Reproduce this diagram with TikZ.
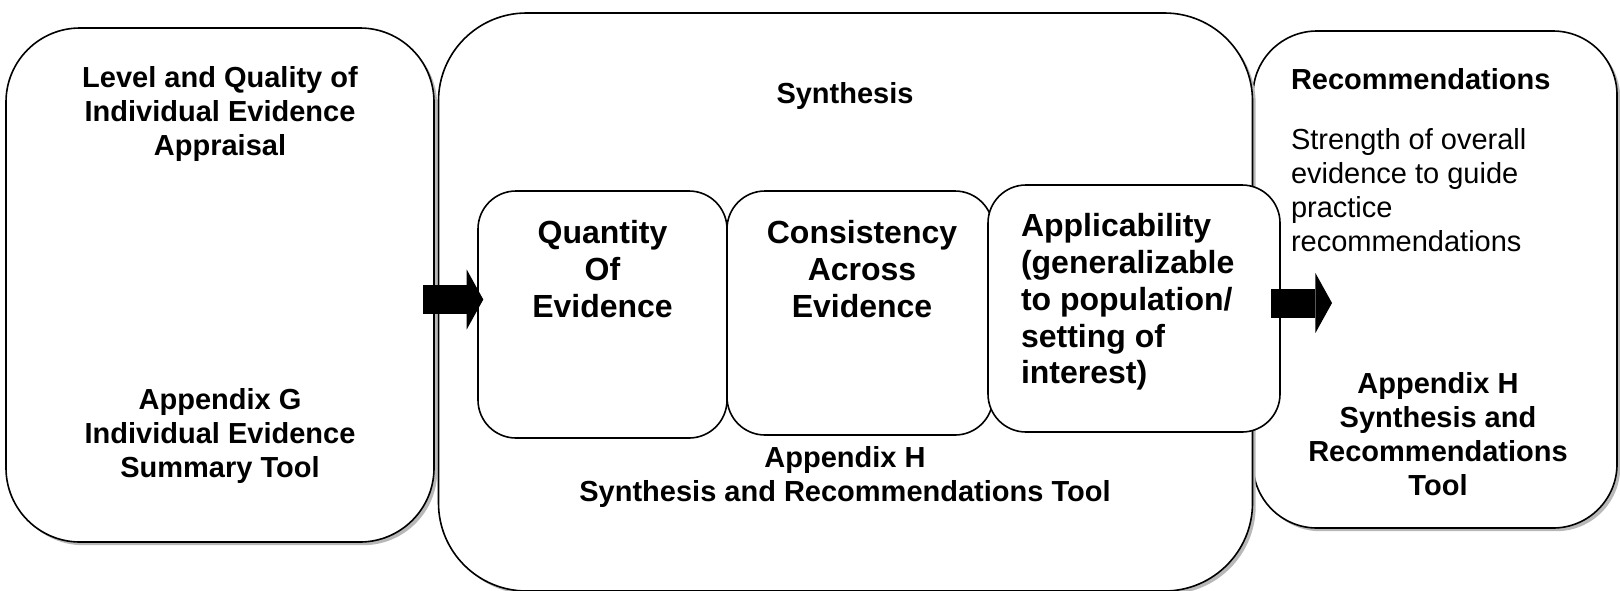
\documentclass[tikz,border=0pt]{standalone}
\usepackage{fontspec}
\setmainfont{Liberation Sans}
\usetikzlibrary{shadows,arrows.meta}

\begin{document}
\begin{tikzpicture}[x=0.5pt,y=-0.5pt,
every node/.style={align=center,inner sep=0pt,outer sep=0pt},
panel/.style={draw,fill=white,line width=0.8pt,rounded corners=#1,drop shadow={shadow xshift=1.6pt,shadow yshift=-1.6pt,fill=black!28,opacity=1}},
part/.style={draw,fill=white,line width=0.8pt,rounded corners=19pt},
head/.style={font=\fontsize{14.5}{17}\selectfont\bfseries},
big/.style={font=\fontsize{16}{18.4}\selectfont\bfseries},
body/.style={font=\fontsize{14.5}{17}\selectfont,align=left},
fat arrow/.style={line width=14.5pt,-{Triangle[length=8.3pt,width=30pt,line width=0pt]}}
]
\useasboundingbox (0,0) rectangle (1620,590);

% the three stages
\node[panel=32pt,minimum width=182pt,minimum height=248.5pt] (recom) at (1435,279.5) {};
\node[panel=37pt,minimum width=214pt,minimum height=257pt] (level) at (220,285) {};
\node[panel=44pt,minimum width=407pt,minimum height=289pt] (synth) at (845.5,302) {};

% parts of the synthesis
\node[part,minimum width=124.5pt,minimum height=123.5pt] (quant) at (602.5,314.5) {};
\node[part,minimum width=133pt,minimum height=122pt] (consist) at (860,313) {};
\node[part,minimum width=146pt,minimum height=123.5pt] (appl) at (1134,308.5) {};

\node[head] (levelname) at (220,113.5) {Level and Quality of\\Individual Evidence\\Appraisal};
\node[head] (levelapp) at (220,435.5) {Appendix G\\Individual Evidence\\Summary Tool}; % <- end level

\node[head] (synthname) at (845,96) {Synthesis};
\node[big] (quanttext) at (602.5,269) {Quantity\\Of\\Evidence};
\node[big] (consisttext) at (862,269) {Consistency\\Across\\Evidence};
\node[big,align=left,anchor=west] (appltext) at (1021,302) {Applicability\\(generalizable\\to population/\\setting of\\interest)};
\node[head] (synthapp) at (845,477) {Appendix H\\Synthesis and Recommendations Tool}; % <- end synthesis

\node[head,anchor=west] (recomname) at (1291,79) {Recommendations};
\node[body,anchor=west] (recomtext) at (1291,190) {Strength of overall\\evidence to guide\\practice\\recommendations};
\node[head] (recomapp) at (1438,434) {Appendix H\\Synthesis and\\Recommendations\\Tool}; % <- end recommendations

% block arrows between the stages
\draw[fat arrow] ([xshift=-5.5pt,yshift=-7.25pt]level.east) -- ([xshift=2.65pt,yshift=7.5pt]quant.west);
\draw[fat arrow] ([xshift=-4.5pt,yshift=2.75pt]appl.east) -- ([xshift=39.5pt,yshift=-11.75pt]recom.west);
\end{tikzpicture}
\end{document}
